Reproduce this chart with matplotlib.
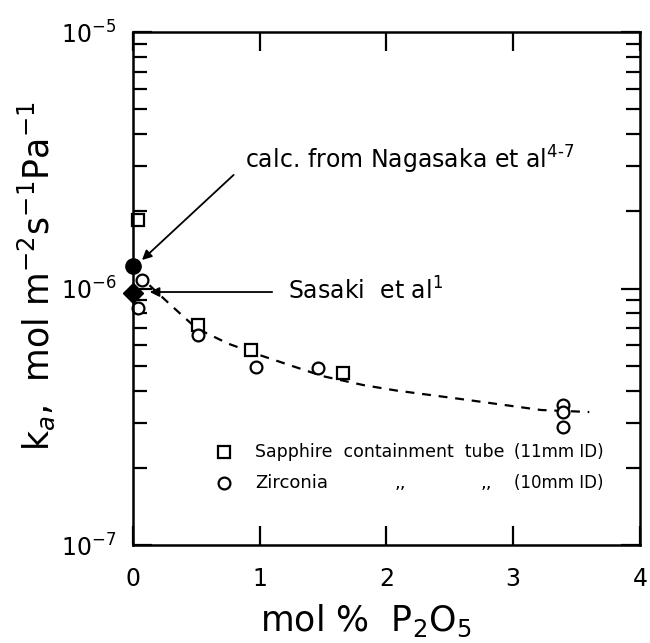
import matplotlib.pyplot as plt
import numpy as np

# mass-transfer coefficient vs P2O5 content
sapphire_x = [0.04, 0.51, 0.93, 1.66]
sapphire_k = [1.85e-6, 7.2e-7, 5.75e-7, 4.7e-7]

zirconia_x = [0.07, 0.04, 0.51, 0.97, 1.46, 3.39, 3.39, 3.39]
zirconia_k = [1.08e-6, 8.4e-7, 6.6e-7, 4.95e-7, 4.9e-7, 3.5e-7, 3.3e-7, 2.88e-7]

nagasaka_k = 1.22e-6
sasaki_k = 9.6e-7

# hand-drawn trend line
trend_x = [0.13, 0.3, 0.5, 0.75, 1.0, 1.25, 1.5, 1.82, 2.08, 2.6, 3.22, 3.6]
trend_k = [1.03e-6, 8.6e-7, 7.0e-7, 6.1e-7, 5.5e-7, 5.0e-7, 4.55e-7, 4.2e-7, 4.0e-7, 3.7e-7, 3.36e-7, 3.3e-7]

fig = plt.figure(figsize=(6.5, 6.43), dpi=100)
ax = fig.add_axes([0.2046, 0.1524, 0.7800, 0.7978])

ax.set_yscale('log')
ax.set_xlim(0, 4)
ax.set_ylim(1e-7, 1e-5)

ax.plot(trend_x, trend_k, color='black', lw=1.6, dashes=(4, 3.5))
ax.plot(sapphire_x, sapphire_k, ls='none', marker='s', ms=8, mfc='white',
        mec='black', mew=1.6, clip_on=False)
ax.plot(zirconia_x, zirconia_k, ls='none', marker='o', ms=8.5, mfc='white',
        mec='black', mew=1.6, clip_on=False)
ax.plot([0], [nagasaka_k], ls='none', marker='o', ms=11, color='black', clip_on=False)
ax.plot([0], [sasaki_k], ls='none', marker='D', ms=10, color='black', clip_on=False)

# literature labels with arrows
arrow = dict(arrowstyle='-|>', color='black', lw=1.3, mutation_scale=14)
ax.annotate('', xy=(0.055, 1.27e-6), xytext=(0.81, 2.82e-6), arrowprops=arrow)
ax.annotate('', xy=(0.11, 9.69e-7), xytext=(1.12, 9.69e-7), arrowprops=arrow)
ax.text(0.88, 3.17e-6, r'calc. from Nagasaka et al$^{4\text{-}7}$', fontsize=17,
        va='center', ha='left')
ax.text(1.22, 9.8e-7, r'Sasaki  et al$^{1}$', fontsize=17, va='center', ha='left')

# key
ax.plot([0.179], [0.181], transform=ax.transAxes, marker='s', ms=8, mfc='white',
        mec='black', mew=1.6, clip_on=False)
ax.plot([0.179], [0.121], transform=ax.transAxes, marker='o', ms=8.5, mfc='white',
        mec='black', mew=1.6, clip_on=False)
ax.text(0.241, 0.181, 'Sapphire  containment  tube', transform=ax.transAxes,
        fontsize=12.5, va='center')
ax.text(0.752, 0.181, '(11mm ID)', transform=ax.transAxes, fontsize=12, va='center')
ax.text(0.241, 0.121, 'Zirconia', transform=ax.transAxes, fontsize=13, va='center')
ax.text(0.515, 0.121, ',,', transform=ax.transAxes, fontsize=13, va='center')
ax.text(0.685, 0.121, ',,', transform=ax.transAxes, fontsize=13, va='center')
ax.text(0.752, 0.121, '(10mm ID)', transform=ax.transAxes, fontsize=12, va='center')

ax.set_xticks([0, 1, 2, 3, 4])
ax.set_xticklabels(['0', '1', '2', '3', '4'])
ax.set_yticks([1e-7, 1e-6, 1e-5])
ax.set_yticklabels([r'$10^{-7}$', r'$10^{-6}$', r'$10^{-5}$'])

ax.tick_params(which='both', direction='in', top=True, right=True, width=1.6,
               labelsize=17)
ax.tick_params(axis='x', pad=16)
ax.tick_params(axis='y', pad=12)
ax.tick_params(which='major', length=14)
ax.tick_params(which='minor', length=10)
for s in ax.spines.values():
    s.set_linewidth(1.8)

ax.set_xlabel(r'mol %  P$_2$O$_5$', fontsize=25, labelpad=8, x=0.46)
ax.set_ylabel(r'k$_a$,  mol m$^{-2}$s$^{-1}$Pa$^{-1}$', fontsize=25)
ax.yaxis.set_label_coords(-0.15, 0.525)

fig.savefig('out.png', dpi=100)
